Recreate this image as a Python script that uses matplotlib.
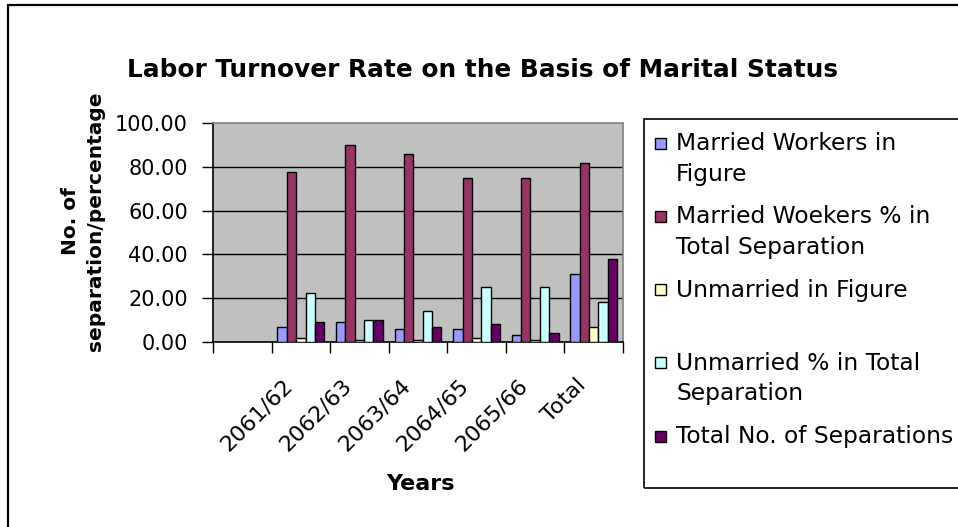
import numpy as np
import matplotlib
matplotlib.use("Agg")
import matplotlib.pyplot as plt
from matplotlib.patches import Rectangle
from matplotlib.transforms import ScaledTranslation

# data (first slot is an empty category)
categories = ["", "2061/62", "2062/63", "2063/64", "2064/65", "2065/66", "Total"]
married_fig = [np.nan, 7, 9, 6, 6, 3, 31]
married_pct = [np.nan, 77.78, 90.00, 85.71, 75.00, 75.00, 81.58]
unmarried_fig = [np.nan, 2, 1, 1, 2, 1, 7]
unmarried_pct = [np.nan, 22.22, 10.00, 14.29, 25.00, 25.00, 18.42]
total_sep = [np.nan, 9, 10, 7, 8, 4, 38]

series_labels = ["Married Workers in\nFigure",
                 "Married Woekers % in\nTotal Separation",
                 "Unmarried in Figure",
                 "Unmarried % in Total\nSeparation",
                 "Total No. of Separations"]
colors = ["#9999FF", "#993366", "#FFFFCC", "#CCFFFF", "#660066"]
yticks = [0, 20, 40, 60, 80, 100]

W, H = 958, 527
fig = plt.figure(figsize=(W / 100, H / 100), dpi=100)


def fx(x):
    return x / W


def fy(y):
    return 1 - y / H


# outer chart border (cut off on the right and bottom)
fig.add_artist(Rectangle((fx(8), fy(540)), fx(1000) - fx(8), fy(5) - fy(540),
                         transform=fig.transFigure, fill=False, ec="black", lw=1.6))

ax = fig.add_axes([fx(213), fy(342), fx(623) - fx(213), fy(123) - fy(342)])
ax.set_facecolor("#C0C0C0")

x = np.arange(len(categories))
width = 0.16
all_series = [married_fig, married_pct, unmarried_fig, unmarried_pct, total_sep]
for i, vals in enumerate(all_series):
    ax.bar(x + (i - 2) * width, vals, width, color=colors[i], edgecolor="black",
           linewidth=1.0, zorder=3)

for t in yticks[1:-1]:
    ax.axhline(t, color="black", lw=1.0, zorder=1)

ax.set_xlim(-0.5, len(categories) - 0.5)
ax.set_ylim(0, 100)
ax.set_yticks(yticks)
ax.set_yticklabels(["%.2f" % t for t in yticks], fontsize=15)
ax.tick_params(axis="y", direction="out", length=8, width=1, pad=10)

ax.set_xticks(x)
ax.set_xticklabels(categories, rotation=45, ha="right", va="center",
                   rotation_mode="anchor", fontsize=16)
ax.tick_params(axis="x", which="major", length=0, pad=29)
shift = ScaledTranslation(-11 / 100, 0, fig.dpi_scale_trans)
for lbl in ax.get_xticklabels():
    lbl.set_transform(lbl.get_transform() + shift)
ax.set_xticks(np.arange(len(categories) + 1) - 0.5, minor=True)
ax.tick_params(axis="x", which="minor", direction="out", length=8, width=1)

ax.spines["left"].set_color("black")
ax.spines["bottom"].set_color("black")
ax.spines["top"].set_color("#808080")
ax.spines["right"].set_color("#808080")
for s in ax.spines.values():
    s.set_linewidth(1.2)

fig.text(fx(483), fy(70), "Labor Turnover Rate on the Basis of Marital Status",
         ha="center", va="center", fontsize=17.8, fontweight="bold")
fig.text(fx(420), fy(484), "Years", ha="center", va="center",
         fontsize=16, fontweight="bold")
fig.text(fx(83), fy(221), "No. of\nseparation/percentage", rotation=90,
         ha="center", va="center", multialignment="center",
         fontsize=14.5, fontweight="bold", linespacing=1.45)

# legend box
fig.add_artist(Rectangle((fx(644), fy(488)), fx(1000) - fx(644), fy(119) - fy(488),
                         transform=fig.transFigure, fill=False, ec="black", lw=1.2))
for i, lab in enumerate(series_labels):
    yc = 143 + i * 73.3
    fig.add_artist(Rectangle((fx(655), fy(yc + 5.5)), fx(11), fx(11) * W / H,
                             transform=fig.transFigure, fc=colors[i], ec="black", lw=1))
    fig.text(fx(676), fy(yc - 11), lab, ha="left", va="top", fontsize=16.8,
             linespacing=1.42)

fig.savefig("out.png", dpi=100)
